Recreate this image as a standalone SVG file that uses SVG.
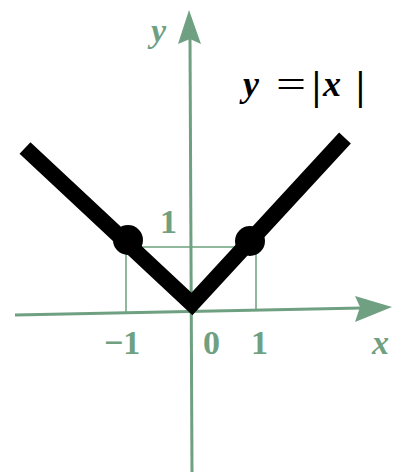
<svg xmlns="http://www.w3.org/2000/svg" width="395" height="472" viewBox="0 0 395 472">
<style>
.ax{stroke:#6fa081;stroke-width:3;fill:none}
.gr{stroke:#8fb89c;stroke-width:2;fill:none}
.lab{font-family:"Liberation Serif",serif;font-weight:bold;fill:#6fa081;font-size:34px}
.it{font-style:italic}
.eq{font-family:"Liberation Serif",serif;font-weight:bold;font-style:italic;fill:#000;font-size:36px}
.eqn{font-family:"Liberation Serif",serif;fill:#000;font-size:40px}
.bar{font-weight:bold}
</style>
<rect width="395" height="472" fill="#fff"/>
<g id="grid">
<line class="gr" x1="126" y1="247" x2="256" y2="247"/>
<line class="gr" x1="126" y1="247" x2="126" y2="314"/>
<line class="gr" x1="256" y1="247" x2="256" y2="311"/>
</g>
<g id="axes">
<line class="ax" x1="15" y1="315" x2="362" y2="308"/>
<polygon points="392,307 355,296 360,307 355,322" fill="#6fa081"/>
<line class="ax" x1="192" y1="472" x2="190" y2="38"/>
<polygon points="189,10 178,44 190,39 201,44" fill="#6fa081"/>
</g>
<g id="graph">
<polyline points="25,148 192,304 345,138" fill="none" stroke="#000" stroke-width="16" stroke-linejoin="miter"/>
<circle cx="128" cy="240" r="15" fill="#000"/>
<circle cx="250" cy="241" r="15" fill="#000"/>
</g>
<g id="labels">
<text class="lab it" x="151" y="42">y</text>
<text class="lab" x="160" y="233">1</text>
<text class="lab" x="104" y="354">−1</text>
<text class="lab" x="203" y="354">0</text>
<text class="lab" x="251" y="354">1</text>
<text class="lab it" x="372" y="354">x</text>
<text class="eq" x="243" y="96">y</text>
<text class="eqn" x="276" y="98" textLength="30" lengthAdjust="spacingAndGlyphs">=</text>
<text class="eqn bar" x="312" y="99">|</text>
<text class="eq" x="323" y="96">x</text>
<text class="eqn bar" x="356" y="99">|</text>
</g>
</svg>
